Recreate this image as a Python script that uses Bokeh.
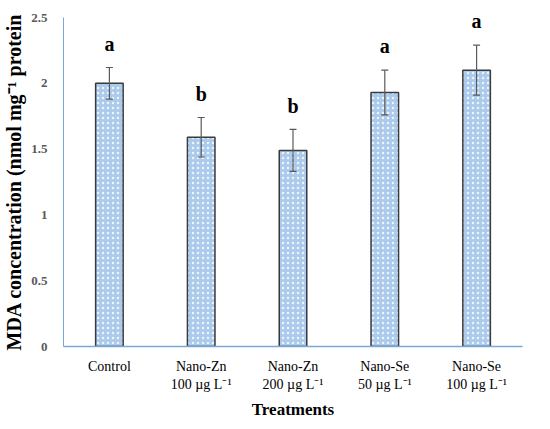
from bokeh.plotting import figure
from bokeh.models import ColumnDataSource, Whisker, TeeHead
from bokeh.embed import file_html
from bokeh.resources import INLINE

treatments = ["Control", "Nano-Zn\n100 µg L⁻¹", "Nano-Zn\n200 µg L⁻¹",
              "Nano-Se\n50 µg L⁻¹", "Nano-Se\n100 µg L⁻¹"]
mda = [2.0, 1.59, 1.49, 1.93, 2.10]
err = [0.12, 0.15, 0.16, 0.17, 0.19]
letters = ["a", "b", "b", "a", "a"]

upper = [m + e for m, e in zip(mda, err)]
lower = [m - e for m, e in zip(mda, err)]
letter_y = [u + 0.18 for u in upper]

src = ColumnDataSource(data=dict(x=treatments, top=mda, upper=upper, lower=lower,
                                 ly=letter_y, lab=letters))

p = figure(x_range=treatments, y_range=(0, 2.5), width=534, height=421,
           output_backend="svg", toolbar_location=None,
           min_border_left=61, min_border_right=12, min_border_top=17, min_border_bottom=74)

p.vbar(x="x", top="top", width=0.3, source=src,
       fill_color="#abcaec", line_color="#3a3a3a", line_width=1.5,
       hatch_pattern="dot", hatch_color="#eef4fb", hatch_scale=5, hatch_weight=1)

w = Whisker(base="x", upper="upper", lower="lower", source=src,
            line_color="#5a5a5a", line_width=1.2, level="overlay")
w.upper_head = TeeHead(size=7, line_color="#5a5a5a", line_width=1.2)
w.lower_head = TeeHead(size=7, line_color="#5a5a5a", line_width=1.2)
p.add_layout(w)

p.text(x="x", y="ly", text="lab", source=src, text_align="center",
       text_baseline="middle", text_font_size="20px", text_font_style="bold",
       text_font="Liberation Serif", text_color="black")

p.xgrid.visible = False
p.ygrid.visible = False
p.outline_line_color = None

p.yaxis.ticker = [0, 0.5, 1, 1.5, 2, 2.5]
p.yaxis.major_tick_line_color = None
p.yaxis.minor_tick_line_color = None
p.yaxis.axis_line_color = "#7aa6d8"
p.yaxis.major_label_text_font = "Liberation Serif"
p.yaxis.major_label_text_font_style = "bold"
p.yaxis.major_label_text_font_size = "13px"
p.yaxis.major_label_text_color = "#595959"
p.yaxis.major_label_standoff = 10
p.yaxis.axis_label = "MDA concentration (nmol mg⁻¹ protein"
p.yaxis.axis_label_text_font = "Liberation Serif"
p.yaxis.axis_label_text_font_style = "bold"
p.yaxis.axis_label_text_font_size = "20px"
p.yaxis.axis_label_text_color = "black"
p.yaxis.axis_label_standoff = 3

p.xaxis.major_tick_line_color = None
p.xaxis.minor_tick_line_color = None
p.xaxis.axis_line_color = "#7aa6d8"
p.xaxis.axis_line_width = 1.5
p.xaxis.major_label_text_font = "Liberation Serif"
p.xaxis.major_label_text_font_size = "14px"
p.xaxis.major_label_text_color = "black"
p.xaxis.major_label_standoff = 6
p.xaxis.axis_label = "Treatments"
p.xaxis.axis_label_text_font = "Liberation Serif"
p.xaxis.axis_label_text_font_style = "bold"
p.xaxis.axis_label_text_font_size = "17px"
p.xaxis.axis_label_text_color = "black"
p.xaxis.axis_label_standoff = 5

open("out.html", "w").write(file_html(p, INLINE))
